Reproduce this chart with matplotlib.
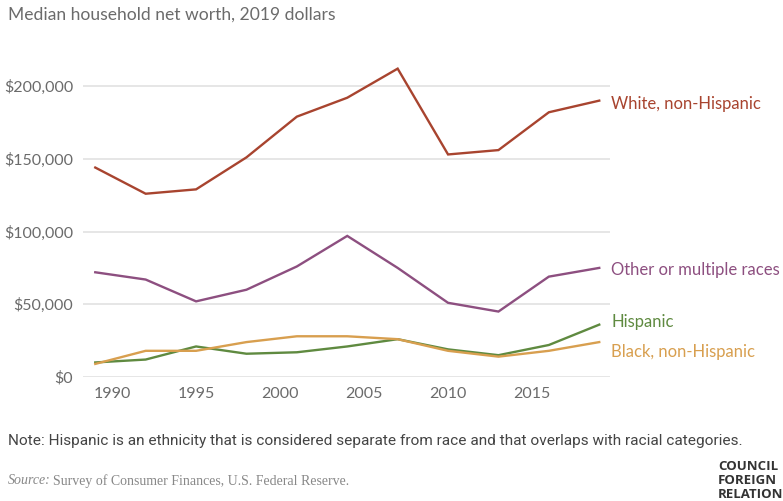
import matplotlib.pyplot as plt

years = [1989, 1992, 1995, 1998, 2001, 2004, 2007, 2010, 2013, 2016, 2019]
white = [144000, 126000, 129000, 151000, 179000, 192000, 212000, 153000, 156000, 182000, 190000]
other = [72000, 67000, 52000, 60000, 76000, 97000, 75000, 51000, 45000, 69000, 75000]
hispanic = [10000, 12000, 21000, 16000, 17000, 21000, 26000, 19000, 15000, 22000, 36000]
black = [9000, 18000, 18000, 24000, 28000, 28000, 26000, 18000, 14000, 18000, 24000]

series = [
    ('White, non-Hispanic', white, '#a8442f', 187500),
    ('Other or multiple races', other, '#8d4f80', 73500),
    ('Hispanic', hispanic, '#5f8a40', 38000),
    ('Black, non-Hispanic', black, '#d89f4f', 17000),
]

yticks = [0, 50000, 100000, 150000, 200000]
xticks = [1990, 1995, 2000, 2005, 2010, 2015]

plt.rcParams['font.family'] = ['Lato', 'DejaVu Sans']
text_grey = '#6b6b6b'

fig = plt.figure(figsize=(7.83, 5.01), dpi=100)
ax = fig.add_axes([83 / 783, 1 - 377 / 501, (610 - 83) / 783, (377 - 57) / 501])

for name, vals, col, ylab in series:
    ax.plot(years, vals, color=col, lw=1.7, solid_joinstyle='miter', zorder=3)
    ax.text(2019.7, ylab, name, color=col, fontsize=12, va='center', ha='left',
            clip_on=False)

ax.set_xlim(1988.27, 2019.64)
ax.set_ylim(0, 220000)
ax.set_yticks(yticks)
ax.set_yticklabels(['$' + format(v, ',') for v in yticks])
ax.set_xticks(xticks)
ax.tick_params(length=0, labelsize=11.5, labelcolor=text_grey, pad=7)
ax.tick_params(axis='x', pad=7)
ax.grid(axis='y', color='#e2e2e2', lw=1.2)
ax.set_axisbelow(True)
for s in ax.spines.values():
    s.set_visible(False)

fig.text(8 / 783, 1 - 15 / 501, 'Median household net worth, 2019 dollars',
         fontsize=12.6, color=text_grey, va='center')
fig.text(8 / 783, 1 - 441 / 501,
         'Note: Hispanic is an ethnicity that is considered separate from race and that overlaps with racial categories.',
         fontsize=11.05, color='#444444', va='center', family=['Roboto', 'DejaVu Sans'])
fig.text(8 / 783, 1 - 481 / 501, 'Source:', fontsize=10, color='#888888',
         style='italic', va='center', family=['Liberation Serif'])
fig.text(53 / 783, 1 - 481 / 501, 'Survey of Consumer Finances, U.S. Federal Reserve.',
         fontsize=10, color='#888888', va='center', family=['Liberation Serif'])
# publisher wordmark, bottom right
for i, word in enumerate(['COUNCIL', 'FOREIGN', 'RELATIONS']):
    fig.text(718 / 783, 1 - (466 + 14.5 * i) / 501, word, fontsize=9.5,
             weight='bold', color='#333333', va='center',
             family=['Open Sans', 'DejaVu Sans'])

fig.savefig('out.png', dpi=100)
